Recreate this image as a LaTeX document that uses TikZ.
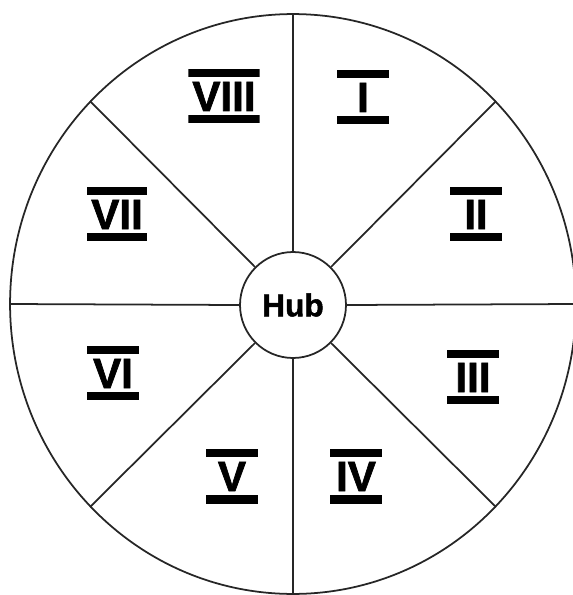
\documentclass[tikz,border=0pt]{standalone}
\usepackage{fontspec}
\setmainfont{Liberation Sans}[BoldFeatures={FakeBold=1.6}]
\usetikzlibrary{shapes.geometric}
\begin{document}
\begin{tikzpicture}[x=0.02cm, y=-0.02cm,
        wheel/.style={draw=black!85, line width=1pt, inner sep=0pt},
        spoke/.style={draw=black!85, line width=1pt},
        numeral/.style={font=\fontsize{24}{24}\selectfont\bfseries,
            text height=0.6cm, text depth=0cm, inner xsep=0.08cm, inner ysep=0.25cm,
            minimum width=1.04cm,
            path picture={
                \fill (path picture bounding box.north west) rectangle ([yshift=-0.17cm]path picture bounding box.north east);
                \fill (path picture bounding box.south west) rectangle ([yshift=0.17cm]path picture bounding box.south east);}}]
    \useasboundingbox (0,0) rectangle (572,595);
    \node[wheel, ellipse, minimum width=11.32cm, minimum height=11.6cm] (rim) at (293,304) {};
    \node[wheel, circle, minimum size=2.12cm, font=\fontsize{18}{18}\selectfont\bfseries] (hub) at (293,305) {Hub};
    \foreach \a in {0,45,...,315}
        \draw[spoke] (hub.\a) -- (rim.\a);
    \node[numeral] (n1) at (363,97) {I};
    \node[numeral] (n2) at (476,214) {II};
    \node[numeral] (n3) at (473,377) {III};
    \node[numeral] (n4) at (356,476) {IV};
    \node[numeral] (n5) at (232,476) {V};
    \node[numeral] (n6) at (113,373) {VI};
    \node[numeral] (n7) at (117,214) {VII};
    \node[numeral] (n8) at (224,96) {VIII};
\end{tikzpicture}
\end{document}
